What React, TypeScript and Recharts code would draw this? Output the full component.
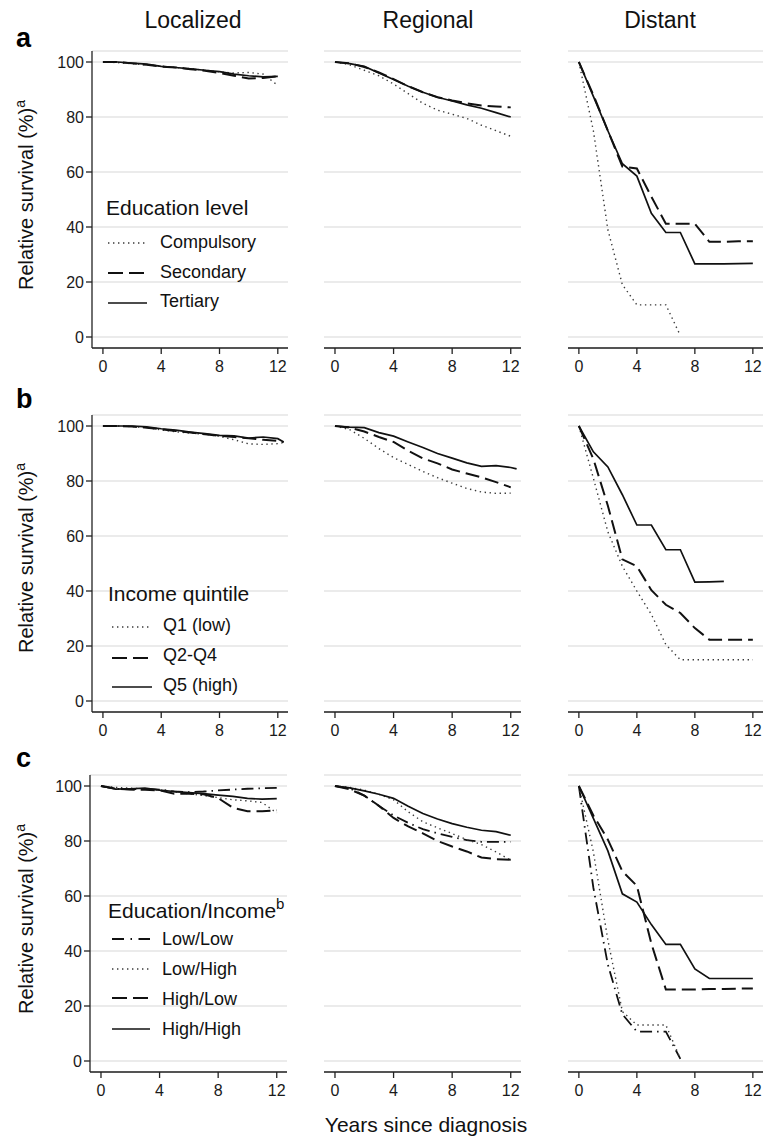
import React from 'react';
import { LineChart, Line, XAxis, YAxis, CartesianGrid } from 'recharts';

// ---- axes / categories ----
const YEARS = [0, 1, 2, 3, 4, 5, 6, 7, 8, 9, 10, 11, 12];
const YEARS_EXT = [0, 1, 2, 3, 4, 5, 6, 7, 8, 9, 10, 11, 12, 12.4];
const X_TICKS = [0, 4, 8, 12];
const Y_TICKS = [0, 20, 40, 60, 80, 100];
const COLUMN_TITLES = ['Localized', 'Regional', 'Distant'];
const PANEL_LETTERS = ['a', 'b', 'c'];

// ---- row a: education level ----
const EDU_LOC_COMP = [100, 99.8, 99.4, 99.0, 98.5, 98.0, 97.6, 97.0, 96.4, 96.0, 96.2, 95.6, 91.5];
const EDU_LOC_SEC = [100, 100, 99.5, 99.0, 98.3, 98.0, 97.4, 96.8, 96.0, 95.0, 94.0, 94.2, 94.8];
const EDU_LOC_TER = [100, 100, 99.6, 99.2, 98.4, 98.0, 97.5, 97.0, 96.5, 95.6, 95.0, 94.6, 94.8];

const EDU_REG_COMP = [100, 99, 97, 95, 92, 88.5, 85, 82.5, 81, 79.5, 77, 75, 73];
const EDU_REG_SEC = [100, 99.5, 98.2, 96.2, 93.8, 91.2, 89.0, 87.2, 86.0, 85.0, 84.2, 83.8, 83.5];
const EDU_REG_TER = [100, 99.4, 98.4, 96.0, 93.6, 91.2, 89.0, 87.2, 85.8, 84.4, 83.2, 81.6, 80.0];

const EDU_DIS_COMP = [100, 75, 39, 19, 11.7, 11.7, 11.7, 0.5, null, null, null, null, null];
const EDU_DIS_SEC = [100, 88, 75, 62, 61.3, 51, 41.2, 41.2, 41.2, 34.6, 34.6, 34.8, 34.8];
const EDU_DIS_TER = [100, 87.5, 75, 63, 58.5, 45, 38, 38, 26.6, 26.6, 26.6, 26.7, 26.8];

// ---- row b: income quintile ----
const INC_LOC_Q1 = [100, 100, 99.8, 99.4, 98.6, 97.9, 97.4, 97.0, 96.2, 95.0, 93.5, 93.3, 93.6, 94.0];
const INC_LOC_Q24 = [100, 100, 99.8, 99.4, 98.8, 98.2, 97.6, 97.0, 96.4, 96.0, 95.5, 95.0, 94.6, 94.2];
const INC_LOC_Q5 = [100, 100, 100, 99.7, 99.0, 98.5, 97.8, 97.2, 96.6, 96.4, 95.6, 96.0, 95.4, 94.2];

const INC_REG_Q1 = [100, 98.7, 95.5, 91.8, 88.5, 86, 83.5, 81.2, 79.2, 77.3, 76, 75.5, 75.6, null];
const INC_REG_Q24 = [100, 99.4, 98, 96, 94.2, 91, 88.2, 86.4, 84.2, 82.7, 81.3, 79.6, 77.7, null];
const INC_REG_Q5 = [100, 99.6, 99.4, 97.6, 96.3, 94.2, 92.2, 90, 88.3, 86.6, 85.3, 85.6, 84.9, 84.4];

const INC_DIS_Q1 = [100, 81, 61.5, 49, 40, 31.5, 20.5, 15, 15, 15, 15, 15, 15];
const INC_DIS_Q24 = [100, 88, 71, 51.5, 49, 40.3, 35, 32, 26.5, 22.3, 22.3, 22.3, 22.3];
const INC_DIS_Q5 = [100, 90.6, 85.1, 75, 64, 64, 55, 55, 43.2, 43.3, 43.5, null, null];

// ---- row c: education / income ----
const EI_LOC_LL = [100, 99.0, 98.8, 99.0, 98.7, 98.0, 97.8, 98.0, 98.4, 98.7, 99.0, 99.2, 99.3];
const EI_LOC_LH = [100, 99.5, 99.2, 99.0, 98.5, 97.8, 97.2, 96.5, 95.8, 95.0, 94.6, 94.0, 90.2];
const EI_LOC_HL = [100, 99.0, 98.7, 98.6, 98.4, 97.2, 97.2, 97.0, 95.6, 92.1, 90.8, 90.8, 91.2];
const EI_LOC_HH = [100, 98.9, 99.0, 99.2, 98.5, 98.0, 97.6, 97.2, 96.7, 96.2, 95.5, 95.2, 95.4];

const EI_REG_LL = [100, 99.2, 96.5, 92.7, 89.3, 86.6, 84.3, 82.8, 81.5, 80.3, 79.7, 79.7, 79.7];
const EI_REG_LH = [100, 99.5, 98.5, 97.0, 95.0, 90.6, 87.0, 84.8, 82.7, 80.5, 78.7, 76.0, 73.0];
const EI_REG_HL = [100, 98.8, 96.5, 92.8, 88.4, 85.3, 82.8, 80.0, 78.0, 76.2, 74.0, 73.4, 73.2];
const EI_REG_HH = [100, 99.3, 98.2, 97.0, 95.5, 92.6, 90.0, 88.0, 86.3, 85.0, 83.9, 83.4, 82.1];

const EI_DIS_LL = [100, 63, 35, 17, 10.7, 10.7, 10.7, 0.8, null, null, null, null, null];
const EI_DIS_LH = [100, 76, 44, 18, 13.1, 13.1, 13.1, 0.8, null, null, null, null, null];
const EI_DIS_HL = [100, 89.3, 80.5, 69.0, 63.7, 42.7, 26.0, 26.0, 26.0, 26.2, 26.2, 26.3, 26.4];
const EI_DIS_HH = [100, 88.2, 76.4, 60.8, 57.8, 49.6, 42.4, 42.4, 33.5, 30.0, 30.0, 30.0, 30.0];

// ---- legends ----
const EDU_LABELS = ['Compulsory', 'Secondary', 'Tertiary'];
const INC_LABELS = ['Q1 (low)', 'Q2-Q4', 'Q5 (high)'];
const EI_LABELS = ['Low/Low', 'Low/High', 'High/Low', 'High/High'];

type StyleKey = 'dotted' | 'dashed' | 'solid' | 'dashdot';
const LINE_STYLE: Record<StyleKey, { stroke: string; strokeWidth: number; strokeDasharray?: string }> = {
  dotted: { stroke: '#3a3a3a', strokeWidth: 1.4, strokeDasharray: '1.4 3.6' },
  dashed: { stroke: '#111', strokeWidth: 2, strokeDasharray: '14 6' },
  solid: { stroke: '#111', strokeWidth: 1.7 },
  dashdot: { stroke: '#111', strokeWidth: 1.8, strokeDasharray: '12 5 1.5 5' },
};
const LEGEND_STYLE: Record<StyleKey, { stroke: string; strokeWidth: number; strokeDasharray?: string }> = {
  dotted: { stroke: '#3a3a3a', strokeWidth: 1.4, strokeDasharray: '1.4 3.6' },
  dashed: { stroke: '#111', strokeWidth: 2.2, strokeDasharray: '15 6' },
  solid: { stroke: '#111', strokeWidth: 1.7 },
  dashdot: { stroke: '#111', strokeWidth: 1.8, strokeDasharray: '12 6.5 1.5 6.5' },
};

type Series = { key: string; values: (number | null)[]; style: StyleKey };

const EDU_STYLES: StyleKey[] = ['dotted', 'dashed', 'solid'];
const EI_STYLES: StyleKey[] = ['dashdot', 'dotted', 'dashed', 'solid'];

const mk = (labels: string[], styles: StyleKey[], vals: (number | null)[][]): Series[] =>
  vals.map((v, i) => ({ key: labels[i], values: v, style: styles[i] }));

const ROWS = [
  {
    times: [YEARS, YEARS, YEARS],
    series: [
      mk(EDU_LABELS, EDU_STYLES, [EDU_LOC_COMP, EDU_LOC_SEC, EDU_LOC_TER]),
      mk(EDU_LABELS, EDU_STYLES, [EDU_REG_COMP, EDU_REG_SEC, EDU_REG_TER]),
      mk(EDU_LABELS, EDU_STYLES, [EDU_DIS_COMP, EDU_DIS_SEC, EDU_DIS_TER]),
    ],
  },
  {
    times: [YEARS_EXT, YEARS_EXT, YEARS],
    series: [
      mk(INC_LABELS, EDU_STYLES, [INC_LOC_Q1, INC_LOC_Q24, INC_LOC_Q5]),
      mk(INC_LABELS, EDU_STYLES, [INC_REG_Q1, INC_REG_Q24, INC_REG_Q5]),
      mk(INC_LABELS, EDU_STYLES, [INC_DIS_Q1, INC_DIS_Q24, INC_DIS_Q5]),
    ],
  },
  {
    times: [YEARS, YEARS, YEARS],
    series: [
      mk(EI_LABELS, EI_STYLES, [EI_LOC_LL, EI_LOC_LH, EI_LOC_HL, EI_LOC_HH]),
      mk(EI_LABELS, EI_STYLES, [EI_REG_LL, EI_REG_LH, EI_REG_HL, EI_REG_HH]),
      mk(EI_LABELS, EI_STYLES, [EI_DIS_LL, EI_DIS_LH, EI_DIS_HL, EI_DIS_HH]),
    ],
  },
];

// layout
const PLOT_TOP = [51, 415, 775];
const PLOT_H = 297;
const PLOT_LEFT = [92, 324, 568];
const PLOT_W = [196, 197, 195];
const FONT = "'Liberation Sans', Arial, Helvetica, sans-serif";
const Y_AXIS_W = 60;

function Panel({ left, top, plotW, showY, times, series }: {
  left: number; top: number; plotW: number; showY: boolean; times: number[]; series: Series[];
}) {
  const data = times.map((t, i) => {
    const row: Record<string, number | null> = { t };
    series.forEach((s) => {
      const v = s.values[i];
      row[s.key] = v === undefined ? null : v;
    });
    return row;
  });
  const yW = showY ? Y_AXIS_W : 0;
  return (
    <div style={{ position: 'absolute', left: left - yW, top: top - 5 }}>
      <LineChart
        width={yW + plotW + 1}
        height={5 + PLOT_H + 40}
        data={data}
        margin={{ top: 5, right: 1, bottom: 0, left: 0 }}
      >
        <CartesianGrid vertical={false} stroke="#e4e4e4" strokeWidth={1.5} />
        <XAxis
          type="number"
          dataKey="t"
          domain={[-0.75, 12.7]}
          ticks={X_TICKS}
          interval={0}
          allowDataOverflow
          height={40}
          stroke="#222"
          strokeWidth={1.3}
          tickSize={6}
          tickMargin={7}
          tick={{ fontSize: 16, fill: '#1a1a1a', fontFamily: FONT }}
        />
        <YAxis
          type="number"
          domain={[-4, 104]}
          ticks={Y_TICKS}
          interval={0}
          allowDataOverflow
          hide={!showY}
          width={yW}
          stroke="#222"
          strokeWidth={1.3}
          tickSize={6}
          tickMargin={2}
          tick={{ fontSize: 16, fill: '#1a1a1a', fontFamily: FONT }}
        />
        {series.map((s) => (
          <Line
            key={s.key}
            type="linear"
            dataKey={s.key}
            dot={false}
            activeDot={false}
            isAnimationActive={false}
            connectNulls={false}
            {...LINE_STYLE[s.style]}
          />
        ))}
      </LineChart>
    </div>
  );
}

function LegendBlock({ title, sup, x, titleY, labels, styles, sampleX1, sampleX2, textX, sampleYs, textYs }: {
  title: string; sup?: string; x: number; titleY: number; labels: string[]; styles: StyleKey[];
  sampleX1: number; sampleX2: number; textX: number; sampleYs: number[]; textYs: number[];
}) {
  return (
    <g>
      <text x={x} y={titleY} fontSize={21} fill="#111">
        {title}
        {sup ? <tspan fontSize={15} dy={-9}>{sup}</tspan> : null}
      </text>
      {labels.map((l, i) => (
        <g key={l}>
          <line x1={sampleX1} x2={sampleX2} y1={sampleYs[i]} y2={sampleYs[i]} {...LEGEND_STYLE[styles[i]]} />
          <text x={textX} y={textYs[i]} fontSize={18} fill="#111">{l}</text>
        </g>
      ))}
    </g>
  );
}

export default function App() {
  const titleCenters = [193, 428, 660];
  const letterBase = [47, 408, 767];
  const yLabelCenter = [195, 558, 919];
  return (
    <div style={{ position: 'absolute', left: 0, top: 0, width: 764, height: 1140, background: '#fff', fontFamily: FONT, overflow: 'hidden' }}>
      {ROWS.map((row, r) =>
        [0, 1, 2].map((c) => (
          <Panel
            key={`${r}-${c}`}
            left={r === 2 && c === 0 ? 90 : PLOT_LEFT[c]}
            top={PLOT_TOP[r]}
            plotW={r === 2 && c === 0 ? 197 : PLOT_W[c]}
            showY={c === 0}
            times={row.times[c]}
            series={row.series[c]}
          />
        ))
      )}
      <svg width={764} height={1140} style={{ position: 'absolute', left: 0, top: 0, pointerEvents: 'none', fontFamily: FONT }}>
        {COLUMN_TITLES.map((t, i) => (
          <text key={t} x={titleCenters[i]} y={28} fontSize={23} textAnchor="middle" fill="#111">{t}</text>
        ))}
        {PANEL_LETTERS.map((l, i) => (
          <text key={l} x={16} y={letterBase[i]} fontSize={27} fontWeight="bold" fill="#000">{l}</text>
        ))}
        {yLabelCenter.map((cy, i) => (
          <text key={i} transform={`translate(33, ${cy}) rotate(-90)`} textAnchor="middle" fontSize={20} fill="#111">
            Relative survival (%)<tspan fontSize={14} dy={-8}>a</tspan>
          </text>
        ))}
        <text x={426} y={1132} fontSize={21} textAnchor="middle" fill="#111">Years since diagnosis</text>

        <LegendBlock
          title="Education level" x={106} titleY={215}
          labels={EDU_LABELS} styles={EDU_STYLES}
          sampleX1={108} sampleX2={147} textX={160}
          sampleYs={[243, 273, 303]} textYs={[248, 278, 307]}
        />
        <LegendBlock
          title="Income quintile" x={108} titleY={601}
          labels={INC_LABELS} styles={EDU_STYLES}
          sampleX1={112} sampleX2={152} textX={163}
          sampleYs={[627, 658, 687]} textYs={[631, 661, 691]}
        />
        <LegendBlock
          title="Education/Income" sup="b" x={108} titleY={918}
          labels={EI_LABELS} styles={EI_STYLES}
          sampleX1={112} sampleX2={150} textX={162}
          sampleYs={[939, 969, 998, 1029]} textYs={[945, 975, 1005, 1035]}
        />
      </svg>
    </div>
  );
}
